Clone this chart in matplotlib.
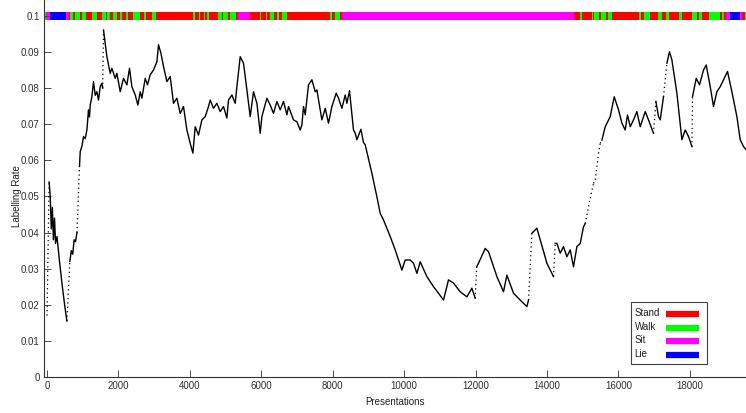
import numpy as np
import matplotlib
matplotlib.use("Agg")
import matplotlib.pyplot as plt
from matplotlib.patches import Rectangle
from matplotlib.lines import Line2D

plt.rcParams['font.family'] = ['Liberation Sans Narrow', 'Liberation Sans', 'DejaVu Sans']

# ---------------- data ----------------
curve_x = [0, 60, 90, 120, 150, 180, 210, 240, 280, 350, 430, 500, 557,
           640, 680, 720, 760, 800, 840,
           910, 930, 980, 1022, 1070, 1117, 1162, 1190, 1210, 1257, 1302, 1350, 1397, 1442, 1490, 1537, 1560,
           1582, 1677, 1770, 1817, 1910, 1957, 2050, 2142, 2237, 2310, 2377, 2470, 2545, 2610, 2657, 2750,
           2814, 2890, 2982, 3077, 3122, 3189, 3262, 3357, 3450, 3542, 3637, 3730, 3822, 3917, 4010, 4085,
           4150, 4242, 4337, 4430, 4522, 4570, 4662, 4757, 4850, 4942, 5037, 5082, 5177, 5270, 5317, 5410,
           5502, 5597, 5690, 5782, 5877, 5970, 6017, 6157, 6250, 6342, 6437, 6530, 6622, 6717, 6762, 6902,
           6997, 7090, 7137, 7182, 7230, 7322, 7417, 7510, 7557, 7697, 7790, 7882, 7977, 8098, 8162, 8257,
           8350, 8397, 8470, 8582, 8630, 8677, 8790, 8860, 8910, 9097, 9237, 9330, 9422, 9610, 9750, 9937,
           10030, 10170, 10262, 10357, 10450, 10637, 10822, 10962, 11102, 11242, 11382, 11570, 11757, 11897, 11990,
           12030, 12082, 12270, 12362, 12597, 12782, 12877, 13062, 13250, 13437, 13482,
           13577, 13717, 13810, 13997, 14137, 14182,
           14230, 14277, 14370, 14462, 14557, 14650, 14742, 14837, 14930, 15022, 15070, 15210, 15302, 15350,
           15442, 15490, 15537, 15630, 15770, 15882, 16002, 16097, 16190, 16254, 16330, 16422, 16517, 16610,
           16750, 16842, 16982,
           17049, 17122, 17170, 17262,
           17357, 17430, 17497, 17637, 17777, 17870, 17962, 18057,
           18074, 18178, 18270, 18382, 18458, 18570, 18662, 18757, 18850, 18942, 19054, 19177, 19317, 19410,
           19502, 19578]
curve_y = [0.0170, 0.0540, 0.0500, 0.0410, 0.0470, 0.0380, 0.0440, 0.0370, 0.0389, 0.0320, 0.0250, 0.0195, 0.0155,
           0.0320, 0.0350, 0.0340, 0.0380, 0.0375, 0.0400,
           0.0583, 0.0624, 0.0640, 0.0666, 0.0660, 0.0684, 0.0740, 0.0720, 0.0753, 0.0776, 0.0818, 0.0780, 0.0790, 0.0767, 0.0804, 0.0813, 0.0800,
           0.0961, 0.0887, 0.0841, 0.0855, 0.0827, 0.0841, 0.0790, 0.0827, 0.0809, 0.0855, 0.0804, 0.0781, 0.0753, 0.0790, 0.0772, 0.0827,
           0.0809, 0.0837, 0.0850, 0.0873, 0.0920, 0.0897, 0.0860, 0.0818, 0.0832, 0.0758, 0.0772, 0.0730, 0.0749, 0.0684, 0.0647, 0.0620,
           0.0693, 0.0670, 0.0712, 0.0721, 0.0749, 0.0767, 0.0744, 0.0758, 0.0735, 0.0749, 0.0717, 0.0767, 0.0781, 0.0758, 0.0804, 0.0887,
           0.0869, 0.0795, 0.0721, 0.0790, 0.0758, 0.0675, 0.0721, 0.0772, 0.0753, 0.0730, 0.0763, 0.0740, 0.0763, 0.0726, 0.0749, 0.0712,
           0.0707, 0.0684, 0.0698, 0.0749, 0.0726, 0.0809, 0.0823, 0.0790, 0.0795, 0.0712, 0.0744, 0.0703, 0.0749, 0.0786, 0.0772, 0.0744,
           0.0781, 0.0758, 0.0793, 0.0684, 0.0675, 0.0657, 0.0686, 0.0650, 0.0643, 0.0564, 0.0499, 0.0453, 0.0435, 0.0389, 0.0352, 0.0296,
           0.0324, 0.0324, 0.0315, 0.0287, 0.0319, 0.0278, 0.0250, 0.0232, 0.0213, 0.0269, 0.0260, 0.0236, 0.0222, 0.0246, 0.0218,
           0.0305, 0.0315, 0.0356, 0.0347, 0.0278, 0.0236, 0.0282, 0.0232, 0.0213, 0.0195, 0.0213,
           0.0398, 0.0412, 0.0380, 0.0315, 0.0287, 0.0278,
           0.0370, 0.0370, 0.0343, 0.0361, 0.0333, 0.0352, 0.0305, 0.0361, 0.0370, 0.0416, 0.0425, 0.0495, 0.0536, 0.0546,
           0.0619, 0.0647, 0.0656, 0.0693, 0.0721, 0.0776, 0.0740, 0.0703, 0.0684, 0.0726, 0.0693, 0.0712, 0.0735, 0.0693,
           0.0735, 0.0712, 0.0675,
           0.0763, 0.0721, 0.0712, 0.0776,
           0.0869, 0.0901, 0.0878, 0.0786, 0.0657, 0.0684, 0.0666, 0.0638,
           0.0776, 0.0827, 0.0809, 0.0850, 0.0864, 0.0804, 0.0749, 0.0790, 0.0804, 0.0823, 0.0846, 0.0790, 0.0721, 0.0657,
           0.0638, 0.0629]
# x positions where the following step is a sparse (dotted) jump
jump_starts = [0, 557, 840, 1560, 11990, 13482, 14182, 16982, 17262, 18057]
sparse_range = (15070, 15537)

bar_edges = [-98, -42, 70, 518, 613, 650, 725, 781, 930, 966, 1098, 1266, 1397, 1546, 1638, 1677, 1770,
             1845, 1957, 2050, 2106, 2218, 2254, 2405, 2610, 2702, 2778, 2926, 3058, 4085, 4141, 4253, 4290,
             4382, 4421, 4477, 4533, 4774, 4886, 4925, 5074, 5130, 5278, 5354, 5690, 5950, 5989, 6118, 6157,
             6250, 6342, 6437, 6493, 6586, 6717, 7910, 7966, 8061, 8190, 8266, 14742, 14910, 14986, 15246,
             15285, 15322, 15453, 15509, 15658, 15694, 15806, 16573, 16629, 16722, 16870, 17114, 17206, 17338,
             17413, 17693, 17786, 18046, 18197, 18253, 18346, 18533, 18850, 18906, 18962, 18998, 19110, 19410,
             19466, 19541, 19600]
bar_states = ['Walk', 'Sit', 'Lie', 'Sit', 'Stand', 'Walk', 'Stand', 'Walk', 'Stand', 'Walk', 'Stand', 'Walk',
              'Stand', 'Walk', 'Stand', 'Walk', 'Stand', 'Walk', 'Stand', 'Walk', 'Stand', 'Walk', 'Stand', 'Walk',
              'Stand', 'Walk', 'Stand', 'Walk', 'Stand', 'Walk', 'Stand', 'Walk', 'Stand', 'Walk', 'Stand', 'Walk',
              'Stand', 'Walk', 'Stand', 'Walk', 'Stand', 'Walk', 'Stand', 'Sit', 'Stand', 'Walk', 'Stand', 'Walk',
              'Stand', 'Walk', 'Stand', 'Walk', 'Stand', 'Walk', 'Stand', 'Walk', 'Stand', 'Walk', 'Stand', 'Sit',
              'Stand', 'Walk', 'Stand', 'Walk', 'Stand', 'Walk', 'Stand', 'Walk', 'Stand', 'Walk', 'Stand', 'Walk',
              'Stand', 'Walk', 'Stand', 'Walk', 'Stand', 'Walk', 'Stand', 'Walk', 'Stand', 'Walk', 'Stand', 'Walk',
              'Stand', 'Walk', 'Stand', 'Walk', 'Stand', 'Sit', 'Lie', 'Sit', 'Stand', 'Walk']
bar_level = 0.1

activity_names = ['Stand', 'Walk', 'Sit', 'Lie']
activity_colors = {'Stand': '#ff0000', 'Walk': '#00ff00', 'Sit': '#ff00ff', 'Lie': '#0000ff'}

x_ticks = [0, 2000, 4000, 6000, 8000, 10000, 12000, 14000, 16000, 18000]
y_ticks = [0, 0.01, 0.02, 0.03, 0.04, 0.05, 0.06, 0.07, 0.08, 0.09, 0.1]
y_tick_labels = ['0', '0.01', '0.02', '0.03', '0.04', '0.05', '0.06', '0.07', '0.08', '0.09', '0.1']

# ---------------- figure ----------------
W, H = 746, 413
fig = plt.figure(figsize=(W / 100, H / 100), dpi=100)
ax = fig.add_axes([44 / W, 36 / H, 702 / W, 377 / H])
ax.set_xlim(-84, 19572)
ax.set_ylim(0, 0.1044)

cx = np.array(curve_x, dtype=float)
cy = np.array(curve_y, dtype=float)
n = len(cx)
cur_x, cur_y = [cx[0]], [cy[0]]
for i in range(n - 1):
    sparse = (cx[i] in jump_starts) or (sparse_range[0] <= cx[i] < sparse_range[1])
    if sparse:
        ax.plot(cx[i:i + 2], cy[i:i + 2], color='black', lw=0.9, linestyle=(0, (1, 2.5)))
        if len(cur_x) > 1:
            ax.plot(cur_x, cur_y, color='black', lw=1.0)
        cur_x, cur_y = [cx[i + 1]], [cy[i + 1]]
    else:
        cur_x.append(cx[i + 1])
        cur_y.append(cy[i + 1])
if len(cur_x) > 1:
    ax.plot(cur_x, cur_y, color='black', lw=1.0)

# activity bar
half = 0.0012
for a, b, s in zip(bar_edges[:-1], bar_edges[1:], bar_states):
    ax.broken_barh([(a, b - a)], (bar_level - half, 2 * half), facecolor=activity_colors[s], edgecolor='none')

# axes styling
for side in ['top', 'right']:
    ax.spines[side].set_visible(False)
for side in ['left', 'bottom']:
    ax.spines[side].set_color('#303030')
    ax.spines[side].set_linewidth(0.8)
ax.set_xticks(x_ticks)
ax.set_xticklabels([str(t) for t in x_ticks])
ax.set_yticks(y_ticks)
ax.set_yticklabels(y_tick_labels)
ax.tick_params(direction='in', length=5, width=0.6, colors='#303030', labelsize=7, pad=3)

fig.text(395 / W, 1 - 402 / H, 'Presentations', ha='center', va='center', fontsize=7, color='#202020')
fig.text(17 / W, 1 - 196 / H, 'Labelling Rate', ha='center', va='center', rotation=90, fontsize=7, color='#202020')

# legend (MATLAB style: label left, colour sample right)
box_l, box_t, box_r, box_b = 630.7, 302.3, 707.3, 364.0
fig.add_artist(Rectangle((box_l / W, 1 - box_b / H), (box_r - box_l) / W, (box_b - box_t) / H,
                         transform=fig.transFigure, facecolor='white', edgecolor='#404040', lw=0.8, zorder=5))
row_y = [313.3, 327.3, 340.0, 354.0]
for name, ry in zip(activity_names, row_y):
    fig.text(634.7 / W, 1 - ry / H, name, ha='left', va='center', fontsize=7, color='#202020', zorder=6)
    fig.add_artist(Line2D([666 / W, 698.7 / W], [1 - (ry + 0.5) / H, 1 - (ry + 0.5) / H],
                          transform=fig.transFigure, color=activity_colors[name], lw=4.5,
                          solid_capstyle='butt', zorder=6))

fig.savefig('out.png', dpi=100)
